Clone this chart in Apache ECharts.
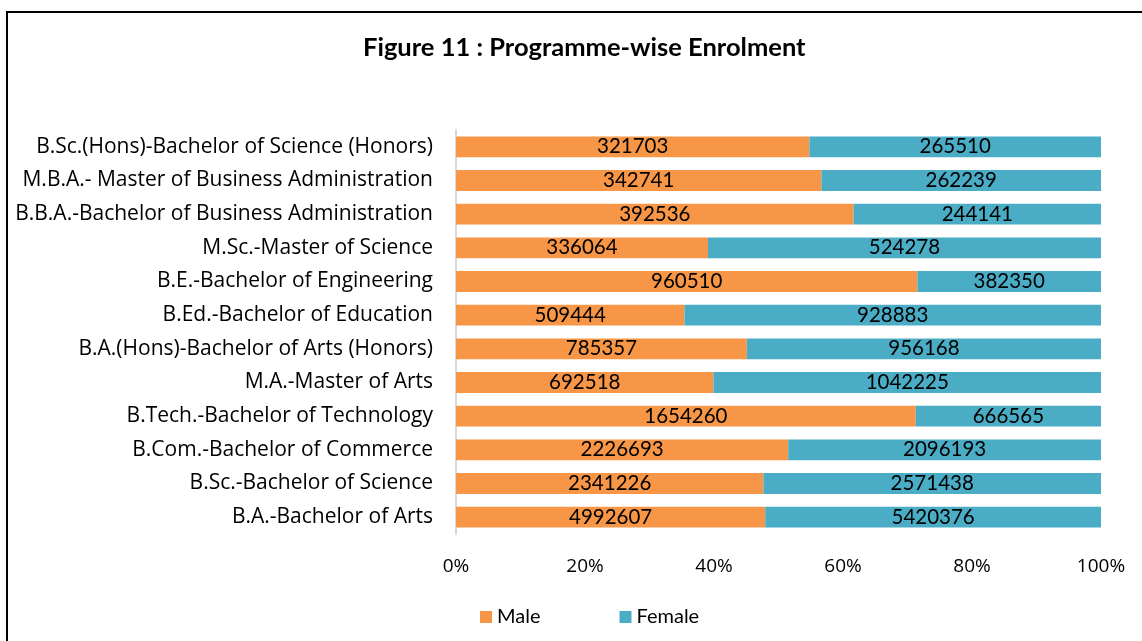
<!DOCTYPE html>
<html>
<head>
<meta charset="utf-8">
<script src="https://cdn.jsdelivr.net/npm/echarts@6/dist/echarts.min.js"></script>
<style>
  html, body { margin: 0; padding: 0; background: #fff; }
  #frame {
    position: absolute; left: 6px; top: 11px; width: 1150px; height: 640px;
    border-top: 2px solid #000; border-left: 2px solid #000;
  }
  #chart { position: absolute; left: 0; top: 0; width: 1142px; height: 641px; }
</style>
</head>
<body>
<div id="frame"></div>
<div id="chart"></div>
<script>
const programmes = [
  "B.Sc.(Hons)-Bachelor of Science (Honors)",
  "M.B.A.- Master of Business Administration",
  "B.B.A.-Bachelor of Business Administration",
  "M.Sc.-Master of Science",
  "B.E.-Bachelor of Engineering",
  "B.Ed.-Bachelor of Education",
  "B.A.(Hons)-Bachelor of Arts (Honors)",
  "M.A.-Master of Arts",
  "B.Tech.-Bachelor of Technology",
  "B.Com.-Bachelor of Commerce",
  "B.Sc.-Bachelor of Science",
  "B.A.-Bachelor of Arts"
];
const male = [321703, 342741, 392536, 336064, 960510, 509444, 785357, 692518, 1654260, 2226693, 2341226, 4992607];
const female = [265510, 262239, 244141, 524278, 382350, 928883, 956168, 1042225, 666565, 2096193, 2571438, 5420376];
const xTicks = ["0%", "20%", "40%", "60%", "80%", "100%"];

const chart = echarts.init(document.getElementById("chart"));

// share of each programme's total, the raw count is kept for the label
const share = (arr) => arr.map((v, i) => ({
  value: (v / (male[i] + female[i])) * 100,
  raw: v
}));

const labelStyle = {
  show: true,
  position: "inside",
  color: "#000",
  fontFamily: "Lato",
  fontSize: 20.5,
  formatter: (p) => String(p.data.raw)
};

chart.setOption({
  animation: false,
  textStyle: { fontFamily: "Open Sans" },
  title: {
    text: "Figure 11 : Programme-wise Enrolment",
    left: 358,
    top: 30,
    textStyle: { fontFamily: "Lato", fontSize: 25.5, fontWeight: "bold", color: "#000" }
  },
  legend: {
    left: 475,
    top: 602,
    itemWidth: 12,
    itemHeight: 12,
    itemGap: 79,
    icon: "rect",
    textStyle: { fontFamily: "Lato", fontSize: 20, color: "#000" },
    data: ["Male", "Female"]
  },
  grid: { left: 456, right: 41, top: 130, bottom: 107 },
  xAxis: {
    type: "value",
    min: 0,
    max: 100,
    interval: 20,
    axisLine: { show: false },
    axisTick: { show: false },
    splitLine: { show: false },
    axisLabel: {
      margin: 23,
      color: "#000",
      fontFamily: "Open Sans",
      fontSize: 19,
      formatter: (v) => xTicks[Math.round(v / 20)]
    }
  },
  yAxis: {
    type: "category",
    inverse: true,
    data: programmes,
    axisLine: { show: true, lineStyle: { color: "#d9d9d9", width: 2 } },
    axisTick: { show: false },
    axisLabel: { margin: 23, color: "#000", fontFamily: "Open Sans", fontSize: 21 }
  },
  series: [
    {
      name: "Male",
      type: "bar",
      stack: "total",
      barWidth: "62%",
      itemStyle: { color: "#F79646" },
      label: labelStyle,
      data: share(male)
    },
    {
      name: "Female",
      type: "bar",
      stack: "total",
      barWidth: "62%",
      itemStyle: { color: "#4BACC6" },
      label: labelStyle,
      data: share(female)
    }
  ]
});

window.addEventListener("resize", () => chart.resize());
</script>
</body>
</html>
